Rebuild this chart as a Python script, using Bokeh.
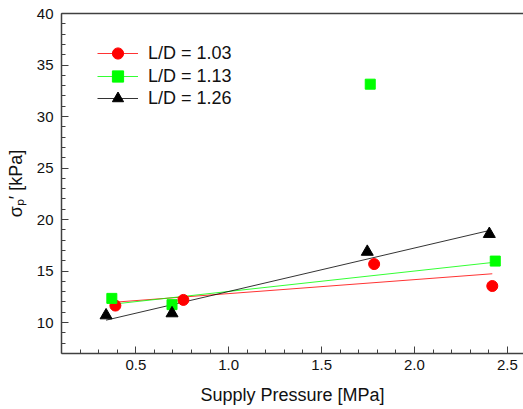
import numpy as np
from bokeh.plotting import figure
from bokeh.models import (Range1d, SingleIntervalTicker, LinearAxis, FixedTicker,
                          Legend, LegendItem, PrintfTickFormatter)
from bokeh.embed import file_html
from bokeh.resources import INLINE

# ---- data ----
labels = ["L/D = 1.03", "L/D = 1.13", "L/D = 1.26"]
colors = ["#ff0000", "#00ff00", "#000000"]
markers = ["circle", "square", "triangle"]
sizes = [11, 10, 12]

x_103 = [0.39, 0.756, 1.783, 2.419]
y_103 = [11.65, 12.2, 15.68, 13.55]
x_113 = [0.371, 0.695, 1.762, 2.435]
y_113 = [12.35, 11.74, 33.14, 15.97]
x_126 = [0.34, 0.695, 1.746, 2.403]
y_126 = [10.7, 10.9, 16.87, 18.6]

# points used for each linear fit (the L/D = 1.13 outlier is left out)
fit_use = [[0, 1, 2, 3], [0, 1, 3], [0, 1, 2, 3]]

xs = [x_103, x_113, x_126]
ys = [y_103, y_113, y_126]

FONT = "Liberation Sans"

p = figure(width=523, height=409, output_backend="svg", toolbar_location=None,
           x_range=Range1d(0.1, 2.587), y_range=Range1d(7, 40))
p.min_border_left = 61
p.min_border_right = 0
p.min_border_top = 13
p.min_border_bottom = 56
p.outline_line_color = None
p.grid.visible = False
p.background_fill_color = "white"
p.border_fill_color = "white"

for ax in (p.xaxis[0], p.yaxis[0]):
    ax.axis_line_color = "#404040"
    ax.axis_line_width = 1.5
    ax.major_tick_line_color = "#404040"
    ax.minor_tick_line_color = "#404040"
    ax.major_tick_in = 7
    ax.major_tick_out = 0
    ax.minor_tick_in = 4
    ax.minor_tick_out = 0
    ax.major_label_text_font = FONT
    ax.major_label_text_font_size = "15px"
    ax.major_label_text_color = "#111111"
    ax.axis_label_text_font = FONT
    ax.axis_label_text_font_size = "18px"
    ax.axis_label_text_font_style = "normal"
    ax.axis_label_text_color = "#111111"

p.xaxis[0].ticker = SingleIntervalTicker(interval=0.5, num_minor_ticks=5)
p.xaxis[0].formatter = PrintfTickFormatter(format="%.1f")
p.yaxis[0].ticker = SingleIntervalTicker(interval=5, num_minor_ticks=5)
p.xaxis[0].axis_label = "Supply Pressure [MPa]"
p.yaxis[0].axis_label = "σ\u209a\u2032 [kPa]"
p.xaxis[0].major_label_standoff = 6
p.xaxis[0].axis_label_standoff = 12
p.yaxis[0].major_label_standoff = 8
p.yaxis[0].axis_label_standoff = 8

top = LinearAxis(ticker=FixedTicker(ticks=[]), axis_line_color="#404040",
                 axis_line_width=1.5, major_label_text_font_size="0px",
                 major_tick_out=0, minor_tick_out=0)
p.add_layout(top, "above")

lines = []
for c, xv, yv, use in zip(colors, xs, ys, fit_use):
    xa = np.array(xv)[use]
    ya = np.array(yv)[use]
    k, b = np.polyfit(xa, ya, 1)
    x0, x1 = xa.min(), xa.max()
    ln = p.line([x0, x1], [k * x0 + b, k * x1 + b], line_color=c, line_width=1,
                line_alpha=0.8)
    lines.append(ln)

legend_y = [286, 263, 241]
for lab, ln, c, m, s, xv, yv, ly in zip(labels, lines, colors, markers, sizes,
                                        xs, ys, legend_y):
    sc = p.scatter(xv, yv, marker=m, size=s, fill_color=c, line_color=c)
    leg = Legend(items=[LegendItem(label=lab, renderers=[ln, sc])],
                 location=(36, ly), border_line_color=None,
                 background_fill_alpha=0, padding=0, margin=0,
                 label_text_font=FONT, label_text_font_size="18px",
                 label_text_color="#111111",
                 glyph_width=41, glyph_height=28, label_height=28,
                 label_standoff=10, spacing=0)
    p.add_layout(leg, "center")

open("out.html", "w").write(file_html(p, INLINE))
